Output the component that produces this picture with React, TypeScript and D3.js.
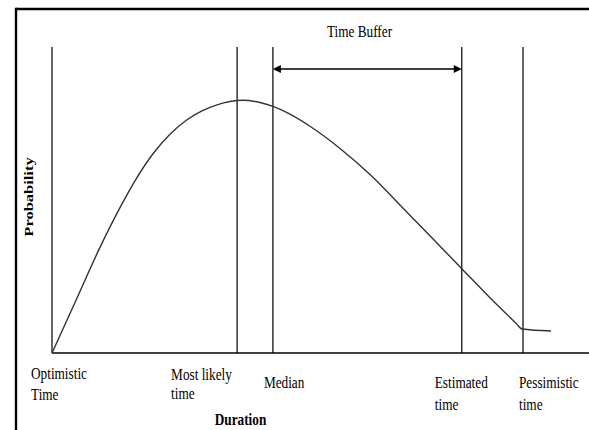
import React from "react";
import * as d3 from "d3";

// Duration (0 = optimistic, 100 = pessimistic) and relative probability (0..1)
const curveDuration = [0, 5.1, 10.19, 14.01, 17.62, 21.44, 25.05, 28.66, 31.85, 35.03, 37.79, 40.55, 44.16, 46.92, 50.32, 54.78, 61.15, 67.52, 75.37, 81.32, 87.05, 92.99, 98.51, 99.79, 105.94];
const curveProbability = [0, 0.1725, 0.3451, 0.4627, 0.5627, 0.651, 0.7149, 0.7621, 0.7915, 0.8111, 0.8217, 0.826, 0.8185, 0.8057, 0.7822, 0.741, 0.6685, 0.5832, 0.4598, 0.3657, 0.2748, 0.1807, 0.0974, 0.0784, 0.0719];

const markerNames = ["Optimistic|Time", "Most likely|time", "Median", "Estimated|time", "Pessimistic|time"];
const markerDurations = [0, 39.3, 46.9, 87, 100];
const bufferRange = [46.9, 87];

const W = 589;
const H = 430;

export default function App() {
  const x = d3.scaleLinear().domain([0, 100]).range([52, 523]);
  const y = d3.scaleLinear().domain([0, 1]).range([353, 47]);
  const pts: [number, number][] = curveDuration.map((d, i) => [d, curveProbability[i]]);
  const line = d3
    .line<[number, number]>()
    .x((d) => x(d[0]))
    .y((d) => y(d[1]))
    .curve(d3.curveMonotoneX);

  const font = "'Liberation Serif', 'Times New Roman', serif";
  const sx = 0.78;
  const labelLayout = [
    { dx: -21, y1: 379, y2: 400 },
    { dx: -66, y1: 380, y2: 399 },
    { dx: -9, y1: 388, y2: 0 },
    { dx: -27, y1: 388, y2: 410 },
    { dx: -4, y1: 388, y2: 410 },
  ];
  const ay = 69;
  const ax1 = x(bufferRange[0]);
  const ax2 = x(bufferRange[1]);

  const T = (tx: number, ty: number) => `translate(${tx},${ty}) scale(${sx},1)`;

  return (
    <svg
      width={W}
      height={H}
      style={{ position: "absolute", left: 0, top: 0, background: "#fff" }}
      fontFamily={font}
    >
      <rect x={0} y={0} width={W} height={H} fill="#fff" />
      {/* frame */}
      <line x1={16} y1={9} x2={W} y2={9} stroke="#000" strokeWidth={2.6} />
      <line x1={16} y1={7.7} x2={16} y2={H} stroke="#000" strokeWidth={2.4} />
      {/* baseline */}
      <line x1={x(0)} y1={y(0)} x2={W} y2={y(0)} stroke="#000" strokeWidth={1.3} />
      {/* marker verticals */}
      {markerDurations.map((d, i) => (
        <line key={i} x1={x(d)} x2={x(d)} y1={y(1)} y2={y(0)} stroke="#000" strokeWidth={1.2} />
      ))}
      {/* curve */}
      <path d={line(pts) || ""} fill="none" stroke="#333" strokeWidth={1.4} />
      {/* buffer arrow */}
      <line x1={ax1 + 6} x2={ax2 - 6} y1={ay} y2={ay} stroke="#000" strokeWidth={1.4} />
      <path d={`M${ax1},${ay} L${ax1 + 8},${ay - 4} L${ax1 + 8},${ay + 4} Z`} fill="#000" />
      <path d={`M${ax2},${ay} L${ax2 - 8},${ay - 4} L${ax2 - 8},${ay + 4} Z`} fill="#000" />
      <text transform={T(359.5, 37)} fontSize={17} textAnchor="middle">
        Time Buffer
      </text>
      {/* marker labels */}
      {markerNames.map((name, i) => {
        const [a, b] = name.split("|");
        const L = labelLayout[i];
        const lx = x(markerDurations[i]) + L.dx;
        return (
          <g key={i}>
            <text transform={T(lx, L.y1)} fontSize={17}>
              {a}
            </text>
            {b && (
              <text transform={T(lx, L.y2)} fontSize={17}>
                {b}
              </text>
            )}
          </g>
        );
      })}
      {/* axis titles */}
      <text transform={T(240.5, 425)} fontSize={17} fontWeight="bold" textAnchor="middle">
        Duration
      </text>
      <text
        transform={`translate(33,197) rotate(-90) scale(1,${sx})`}
        fontSize={16.5}
        fontWeight="bold"
        textAnchor="middle"
      >
        Probability
      </text>
    </svg>
  );
}
